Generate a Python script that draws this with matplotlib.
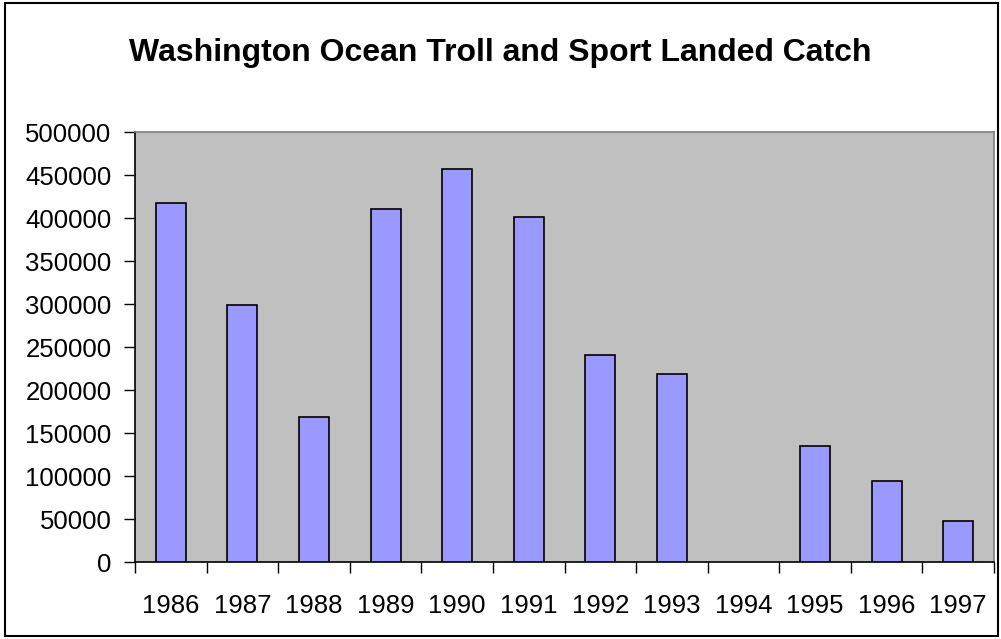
import matplotlib.pyplot as plt
import numpy as np
from matplotlib.patches import Rectangle

# Landed catch by year
years = ['1986', '1987', '1988', '1989', '1990', '1991',
         '1992', '1993', '1994', '1995', '1996', '1997']
catch = [418000, 299000, 169000, 410000, 457000, 401000,
         241000, 219000, 0, 135000, 94500, 48500]
yticks = [0, 50000, 100000, 150000, 200000, 250000,
          300000, 350000, 400000, 450000, 500000]

plt.rcParams['font.family'] = ['Liberation Sans', 'DejaVu Sans']

fig = plt.figure(figsize=(10.01, 6.39), dpi=100)
ax = fig.add_axes([0.1349, 0.120, 0.8581, 0.6734])

x = np.arange(len(years))
# no outline for empty years (1994 has no bar)
edges = ['black' if v > 0 else 'none' for v in catch]
ax.bar(x, catch, width=0.42, color='#9999FF', edgecolor=edges, linewidth=1.2, zorder=3)

ax.set_facecolor('#C0C0C0')
ax.set_xlim(-0.5, len(years) - 0.5)
ax.set_ylim(0, 500000)

# year labels centred, tick marks at category boundaries
ax.set_xticks(x)
ax.set_xticklabels(years, fontsize=18.5)
ax.tick_params(axis='x', which='major', length=0, pad=23)
ax.set_xticks(np.arange(-0.5, len(years), 1.0), minor=True)
ax.tick_params(axis='x', which='minor', length=8, width=1, direction='out', color='black')

ax.set_yticks(yticks)
ax.set_yticklabels([str(v) for v in yticks], fontsize=18.5)
ax.tick_params(axis='y', length=8, width=1, direction='out', pad=9)

for side in ['top', 'right']:
    ax.spines[side].set_color('#808080')
    ax.spines[side].set_linewidth(1.2)
for side in ['left', 'bottom']:
    ax.spines[side].set_color('black')
    ax.spines[side].set_linewidth(1.2)

fig.text(0.5, 0.905, 'Washington Ocean Troll and Sport Landed Catch',
         ha='center', va='baseline', fontsize=23, fontweight='bold')

# chart border
fig.patches.append(Rectangle((0.005, 0.004), 0.992, 0.991, transform=fig.transFigure,
                             fill=False, edgecolor='black', linewidth=1.5))

fig.savefig('out.png', dpi=100)
